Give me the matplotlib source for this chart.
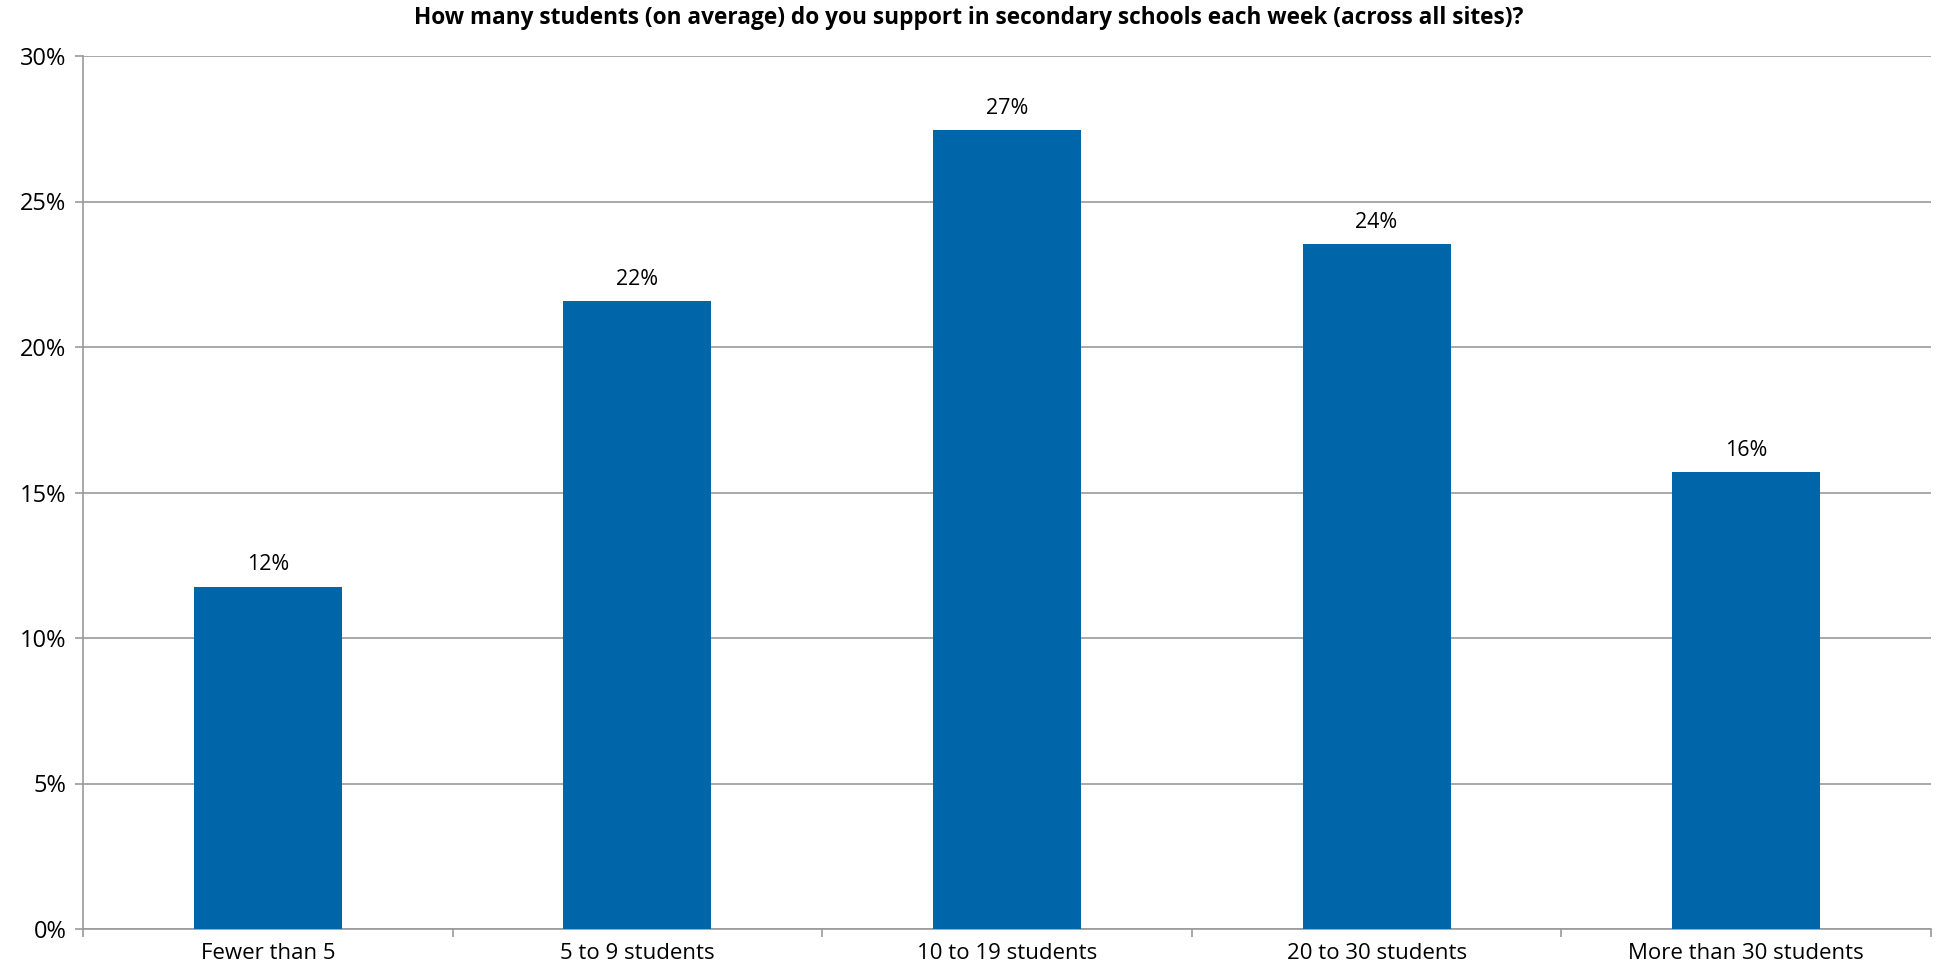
import matplotlib
matplotlib.use("Agg")
import matplotlib.pyplot as plt
from matplotlib.ticker import FixedLocator, PercentFormatter

categories = ["Fewer than 5", "5 to 9 students", "10 to 19 students",
              "20 to 30 students", "More than 30 students"]
values = [11.76, 21.57, 27.45, 23.53, 15.69]
labels = ["12%", "22%", "27%", "24%", "16%"]
yticks = [0, 5, 10, 15, 20, 25, 30]

plt.rcParams["font.family"] = ["Open Sans", "DejaVu Sans"]

fig = plt.figure(figsize=(19.37, 9.68), dpi=100)
ax = fig.add_axes([83 / 1937, 1 - 929 / 968, (1931 - 83) / 1937, (929 - 56) / 968])

grid_col = "#9a9a9a"
x = list(range(len(categories)))
bars = ax.bar(x, values, width=0.4, color="#0066aa", zorder=3)

for b, lab in zip(bars, labels):
    ax.text(b.get_x() + b.get_width() / 2, b.get_height() + 0.4, lab,
            ha="center", va="bottom", fontsize=15.5)

ax.set_xlim(-0.5, len(categories) - 0.5)
ax.set_ylim(0, 30)
ax.set_yticks(yticks)
ax.yaxis.set_major_formatter(PercentFormatter(decimals=0))
ax.yaxis.grid(True, color=grid_col, linewidth=1.2, zorder=0)

ax.set_xticks(x)
ax.set_xticklabels(categories)
ax.xaxis.set_minor_locator(FixedLocator([i - 0.5 for i in range(len(categories) + 1)]))
ax.tick_params(axis="x", which="major", length=0, pad=10, labelsize=16)
ax.tick_params(axis="x", which="minor", length=6, color=grid_col, width=1.2)
ax.tick_params(axis="y", length=6, color=grid_col, width=1.2, labelsize=17, pad=6)

for s in ["top", "right"]:
    ax.spines[s].set_visible(False)
for s in ["left", "bottom"]:
    ax.spines[s].set_color(grid_col)
    ax.spines[s].set_linewidth(1.2)

fig.text(0.5, 1 - 18 / 968,
         "How many students (on average) do you support in secondary schools each week (across all sites)?",
         ha="center", va="center", fontsize=16.3, fontweight="bold")

fig.savefig("out.png", dpi=100)
